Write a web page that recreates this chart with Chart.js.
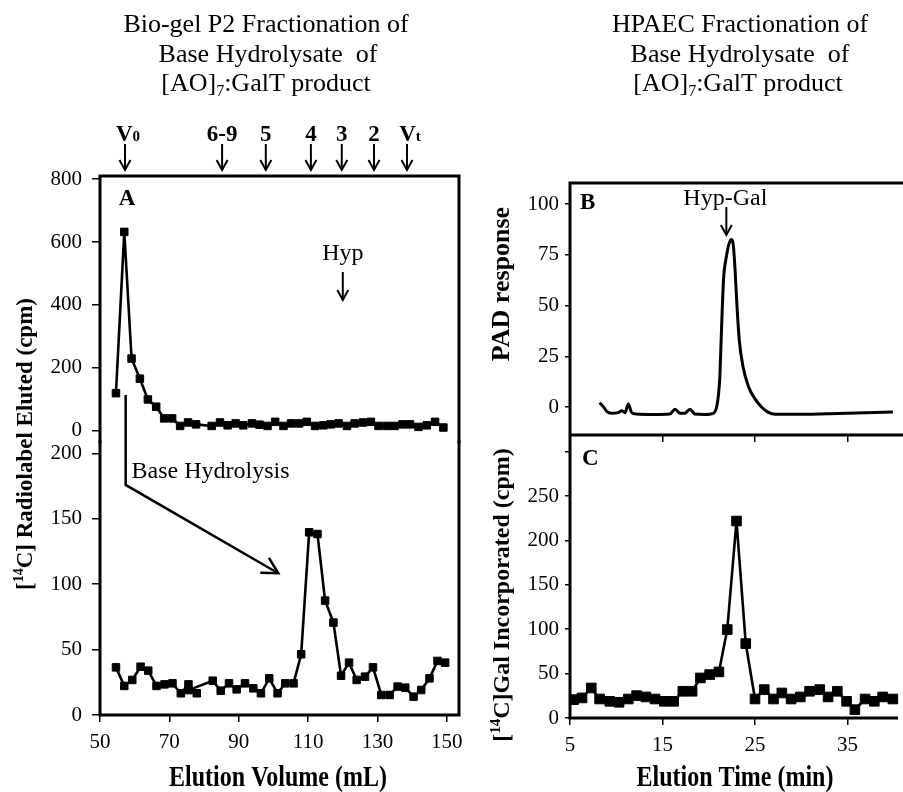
<!DOCTYPE html>
<html lang="en">
<head>
<meta charset="UTF-8">
<title>Bio-gel P2 and HPAEC Fractionation</title>
<style>
  body { margin: 0; background: #fff; }
  #wrap { position: relative; width: 903px; height: 792px; overflow: hidden; }
  #wrap canvas { position: absolute; left: 0; top: 0; }
</style>
</head>
<body>
<div id="wrap">
  <canvas id="chartA1" width="903" height="792"></canvas>
  <canvas id="chartA2" width="903" height="792"></canvas>
  <canvas id="chartB" width="903" height="792"></canvas>
  <canvas id="chartC" width="903" height="792"></canvas>
</div>
<script src="https://cdn.jsdelivr.net/npm/chart.js"></script>
<script>
// Panel A, upper trace: [AO]7:GalT product on Bio-gel P2
const volIntact = [54.6, 57.0, 59.1, 61.5, 63.8, 66.2, 68.5, 70.8, 73.1, 75.4, 77.7, 82.2, 84.6, 86.8, 89.1, 91.3, 93.8, 96.0, 98.3, 100.5, 102.9, 105.1, 107.4, 109.6, 112.0, 114.4, 116.5, 118.8, 121.2, 123.4, 125.8, 128.1, 130.3, 132.7, 134.9, 137.2, 139.4, 141.8, 144.2, 146.6, 149.0];
const cpmIntact = [120, 632, 230, 166, 100, 77, 40, 40, 16, 27, 21, 16, 27, 18, 24, 18, 24, 20, 16, 29, 16, 24, 24, 29, 16, 18, 21, 24, 16, 24, 27, 29, 16, 16, 16, 21, 21, 13, 18, 29, 11];

// Panel A, lower trace: after base hydrolysis
const volBase = [54.6, 57.0, 59.3, 61.7, 63.9, 66.3, 68.6, 70.9, 73.3, 75.5, 77.9, 75.5, 82.5, 84.8, 87.2, 89.4, 91.8, 94.2, 96.4, 98.8, 101.2, 103.4, 105.8, 108.0, 110.3, 112.7, 114.9, 117.3, 119.5, 121.8, 124.0, 126.4, 128.7, 131.1, 133.5, 135.8, 138.0, 140.4, 142.6, 145.0, 147.3, 149.5];
const cpmBase = [36.4, 22.2, 26.8, 36.9, 33.9, 22.2, 23.4, 24.2, 16.6, 23.4, 16.6, 19, 26.2, 18.6, 24.2, 19.6, 24.2, 20.4, 16.6, 28, 16.6, 24.2, 24.2, 46.4, 139.6, 138.3, 87.4, 70.6, 30, 40, 26.8, 29.3, 36.4, 15.3, 15.3, 21.7, 20.9, 14, 19.1, 28, 41.3, 40];

// Panel B: PAD trace
const padTime = [8.2, 8.6, 9.0, 9.5, 10.2, 10.6, 10.95, 11.3, 11.67, 12.2, 14.0, 15.8, 16.35, 16.9, 17.4, 17.97, 18.5, 19.5, 20.5, 20.86, 21.05, 21.2, 21.4, 21.6, 21.9, 22.2, 22.45, 22.65, 22.84, 23.05, 23.3, 23.7, 24.3, 25.0, 25.7, 26.4, 27.2, 30.0, 34.0, 39.9];
const padResp = [2.1, 0.2, -2.3, -3.1, -2.8, -1.8, -2.8, 1.5, -2.8, -3.5, -3.7, -3.5, -1.1, -3.1, -3.1, -1.1, -3.5, -3.7, -3.1, 0.2, 6, 15, 41, 63, 74, 80.5, 82.5, 80, 68, 50, 33, 20, 10, 4, 0, -2.5, -3.6, -3.6, -3.2, -2.5];

// Panel C: [14C]Gal counts per fraction
const galTime = [5.4, 6.3, 7.3, 8.2, 9.3, 10.3, 11.3, 12.2, 13.2, 14.2, 15.2, 16.2, 17.2, 18.2, 19.1, 20.1, 21.1, 22.0, 23.0, 24.0, 25.0, 26.0, 27.0, 27.9, 28.9, 29.9, 30.9, 32.0, 32.9, 33.9, 34.9, 35.8, 36.9, 37.9, 38.8, 39.9];
const galCpm = [20.7, 22.6, 33.8, 21.4, 18.8, 17.7, 21.4, 25.2, 23.7, 21.4, 18.8, 18.8, 30.1, 30.1, 45.1, 48.9, 51.9, 99.6, 221.8, 83.8, 21.4, 32, 21.4, 28.2, 21.4, 23.7, 30.1, 32, 23.7, 30.1, 18.8, 9.4, 21.4, 18.8, 23.7, 21.4];

// tick labels
const volTicks = [50, 70, 90, 110, 130, 150];
const timeTicks = [5, 15, 25, 35];
const intactTicks = [0, 200, 400, 600, 800];
const baseTicks = [0, 50, 100, 150, 200];
const padTicks = [0, 25, 50, 75, 100];
const galTicks = [0, 50, 100, 150, 200, 250, 300];

// calibration markers above panel A
const markerNames = ['V0', '6-9', '5', '4', '3', '2', 'Vt'];
const markerVols = [57.2, 85.2, 97.8, 110.8, 119.7, 129.0, 138.5];

const SERIF = "'Liberation Serif', 'Times New Roman', serif";
const W = 903, H = 792, YW = 70, XH = 60;
Chart.defaults.font.family = SERIF;
Chart.defaults.color = '#000';

function pts(xs, ys) {
  return xs.map((x, i) => ({ x: x, y: ys[i] }));
}

// draw a row of text pieces: [text, size, bold, dy]
function runs(ctx, parts, x, y, align) {
  let w = 0;
  parts.forEach(p => {
    ctx.font = (p[2] ? 'bold ' : '') + p[1] + 'px ' + SERIF;
    w += ctx.measureText(p[0]).width;
  });
  let cx = align === 'center' ? x - w / 2 : x;
  ctx.textAlign = 'left';
  ctx.textBaseline = 'alphabetic';
  parts.forEach(p => {
    ctx.font = (p[2] ? 'bold ' : '') + p[1] + 'px ' + SERIF;
    ctx.fillText(p[0], cx, y + (p[3] || 0));
    cx += ctx.measureText(p[0]).width;
  });
}

function poly(ctx, list) {
  ctx.beginPath();
  ctx.moveTo(list[0][0], list[0][1]);
  for (let i = 1; i < list.length; i++) ctx.lineTo(list[i][0], list[i][1]);
  ctx.stroke();
}

function arrowDown(ctx, x, y1, y2) {
  ctx.lineWidth = 2;
  poly(ctx, [[x, y1], [x, y2]]);
  poly(ctx, [[x - 5.5, y2 - 10], [x, y2], [x + 5.5, y2 - 10]]);
}

function xAxis(min, max, ticks, labels, height) {
  return {
    type: 'linear', min: min, max: max,
    afterBuildTicks: s => { s.ticks = ticks.map(v => ({ value: v })); },
    afterFit: s => { s.height = height; },
    border: { display: false },
    grid: { display: height > 0, drawOnChartArea: false, drawTicks: true, tickLength: 7, color: '#000', lineWidth: 1.5 },
    ticks: { display: labels, autoSkip: false, maxRotation: 0, padding: 8, color: '#000', font: { size: 21 } }
  };
}

function yAxis(min, max, ticks, tl, pad, hide) {
  return {
    type: 'linear', min: min, max: max,
    afterBuildTicks: s => { s.ticks = ticks.map(v => ({ value: v })); },
    afterFit: s => { s.width = YW; },
    border: { display: false },
    grid: { drawOnChartArea: false, drawTicks: true, tickLength: tl, color: '#000', lineWidth: 1.5 },
    ticks: {
      autoSkip: false, padding: pad, color: '#000', font: { size: 21 },
      callback: v => (hide !== undefined && v === hide) ? '' : v
    }
  };
}

function makeChart(id, area, xs, ys, datasets, xh, draw) {
  return new Chart(document.getElementById(id), {
    type: 'scatter',
    data: { datasets: datasets },
    options: {
      responsive: false,
      animation: false,
      events: [],
      layout: {
        autoPadding: false,
        padding: { left: area.l - YW, top: area.t, right: W - area.r, bottom: H - area.b - xh }
      },
      plugins: { legend: { display: false }, tooltip: { enabled: false } },
      scales: { x: xs, y: ys }
    },
    plugins: [{ id: 'deco_' + id, afterDraw: c => draw(c) }]
  });
}

function squareSeries(data, r) {
  return {
    data: data, showLine: true,
    borderColor: '#000', backgroundColor: '#000', borderWidth: 2.6,
    pointStyle: 'rect', pointRadius: r, pointBorderWidth: 1
  };
}

// ---------- Panel A, upper ----------
makeChart('chartA1', { l: 100, t: 176, r: 459, b: 442 }, xAxis(50, 153.5, volTicks, false, 0),
  yAxis(-35, 809.5, intactTicks, 8, 10),
  [squareSeries(pts(volIntact, cpmIntact), 5.3)], 0,
  c => {
    const ctx = c.ctx, a = c.chartArea, xs = c.scales.x, ys = c.scales.y;
    ctx.save();
    ctx.strokeStyle = '#000';
    ctx.fillStyle = '#000';
    ctx.lineWidth = 3;
    ctx.lineCap = 'square';
    poly(ctx, [[a.left, a.bottom], [a.left, a.top], [a.right, a.top], [a.right, a.bottom]]);
    ctx.lineCap = 'butt';

    // titles
    runs(ctx, [['Bio-gel P2 Fractionation of', 26]], 266, 32, 'center');
    runs(ctx, [['Base Hydrolysate  of', 26]], 268, 62, 'center');
    runs(ctx, [['[AO]', 26], ['7', 16, false, 5], [':GalT product', 26]], 266, 91, 'center');
    runs(ctx, [['HPAEC Fractionation of', 26]], 740, 32, 'center');
    runs(ctx, [['Base Hydrolysate  of', 26]], 740, 62, 'center');
    runs(ctx, [['[AO]', 26], ['7', 16, false, 5], [':GalT product', 26]], 738, 91, 'center');

    // calibration markers
    markerNames.forEach((n, i) => {
      const x = xs.getPixelForValue(markerVols[i]);
      if (n[0] === 'V') runs(ctx, [['V', 23, true], [n.slice(1), 15, true, 0]], x + 3, 141, 'center');
      else runs(ctx, [[n, 23, true]], x, 141, 'center');
      arrowDown(ctx, x, 144, 170);
    });

    // Hyp marker
    const hx = xs.getPixelForValue(120);
    runs(ctx, [['Hyp', 24]], hx, 260, 'center');
    arrowDown(ctx, hx, 272, 300);

    runs(ctx, [['A', 23, true]], xs.getPixelForValue(57.8), ys.getPixelForValue(716), 'center');

    // axis titles
    ctx.save();
    ctx.translate(32, 444);
    ctx.rotate(-Math.PI / 2);
    runs(ctx, [['[', 23, true], ['14', 14, true, -9], ['C] Radiolabel Eluted (cpm)', 23, true]], 0, 0, 'center');
    ctx.restore();
    ctx.save();
    ctx.translate(509, 284);
    ctx.rotate(-Math.PI / 2);
    runs(ctx, [['PAD response', 26, true]], 0, 0, 'center');
    ctx.restore();
    ctx.save();
    ctx.translate(509, 595);
    ctx.rotate(-Math.PI / 2);
    runs(ctx, [['[', 24, true], ['14', 15, true, -9], ['C]Gal Incorporated (cpm)', 24, true]], 0, 0, 'center');
    ctx.restore();
    ctx.save();
    ctx.translate(278, 786);
    ctx.scale(1, 1.2);
    runs(ctx, [['Elution Volume (mL)', 24, true]], 0, 0, 'center');
    ctx.restore();
    ctx.save();
    ctx.translate(735, 786);
    ctx.scale(1, 1.2);
    runs(ctx, [['Elution Time (min)', 24, true]], 0, 0, 'center');
    ctx.restore();
    ctx.restore();
  });

// ---------- Panel A, lower ----------
makeChart('chartA2', { l: 100, t: 442, r: 459, b: 715 }, xAxis(50, 153.5, volTicks, true, XH),
  yAxis(0, 208.6, baseTicks, 8, 10),
  [squareSeries(pts(volBase, cpmBase), 5.3)], XH,
  c => {
    const ctx = c.ctx, a = c.chartArea, xs = c.scales.x, ys = c.scales.y;
    ctx.save();
    ctx.strokeStyle = '#000';
    ctx.fillStyle = '#000';
    ctx.lineWidth = 3;
    ctx.lineCap = 'square';
    poly(ctx, [[a.left, a.top], [a.left, a.bottom], [a.right, a.bottom], [a.right, a.top]]);
    ctx.lineCap = 'butt';

    // base hydrolysis connector
    const p0 = [xs.getPixelForValue(57.4), ys.getPixelForValue(244.6)];
    const p1 = [xs.getPixelForValue(57.4), ys.getPixelForValue(175.8)];
    const p2 = [xs.getPixelForValue(101.4), ys.getPixelForValue(108.3)];
    ctx.lineWidth = 2.5;
    poly(ctx, [p0, p1, p2]);
    const ang = Math.atan2(p2[1] - p1[1], p2[0] - p1[0]) + Math.PI;
    const hl = 18;
    poly(ctx, [
      [p2[0] + hl * Math.cos(ang - 0.5), p2[1] + hl * Math.sin(ang - 0.5)],
      p2,
      [p2[0] + hl * Math.cos(ang + 0.5), p2[1] + hl * Math.sin(ang + 0.5)]
    ]);
    runs(ctx, [['Base Hydrolysis', 24]], xs.getPixelForValue(59.1), ys.getPixelForValue(181.1), 'left');
    ctx.restore();
  });

// ---------- Panel B ----------
makeChart('chartB', { l: 570, t: 183, r: 903, b: 435 }, xAxis(5, 41, timeTicks, false, 10),
  yAxis(-13.8, 110.4, padTicks, 5, 6),
  [{
    data: pts(padTime, padResp), showLine: true, borderColor: '#000', borderWidth: 3,
    pointRadius: 0, cubicInterpolationMode: 'monotone'
  }], 10,
  c => {
    const ctx = c.ctx, a = c.chartArea, xs = c.scales.x, ys = c.scales.y;
    ctx.save();
    ctx.strokeStyle = '#000';
    ctx.fillStyle = '#000';
    ctx.lineWidth = 3;
    poly(ctx, [[a.left, a.bottom], [a.left, a.top], [a.right, a.top]]);
    poly(ctx, [[a.left, a.bottom], [a.right, a.bottom]]);
    runs(ctx, [['B', 23, true]], xs.getPixelForValue(6.9), ys.getPixelForValue(97.5), 'center');
    const gx = xs.getPixelForValue(21.9);
    runs(ctx, [['Hyp-Gal', 24]], gx - 1, 205, 'center');
    arrowDown(ctx, gx, 207, 235);
    ctx.restore();
  });

// ---------- Panel C ----------
makeChart('chartC', { l: 570, t: 435, r: 903, b: 718 }, xAxis(5, 41, timeTicks, true, XH),
  yAxis(0, 318.7, galTicks, 5, 6, 300),
  [squareSeries(pts(galTime, galCpm), 6.8)], XH,
  c => {
    const ctx = c.ctx, a = c.chartArea, xs = c.scales.x, ys = c.scales.y;
    ctx.save();
    ctx.strokeStyle = '#000';
    ctx.fillStyle = '#000';
    ctx.lineWidth = 3;
    poly(ctx, [[a.left, a.top], [a.left, a.bottom], [a.right - 5, a.bottom]]);
    runs(ctx, [['C', 23, true]], xs.getPixelForValue(7.2), ys.getPixelForValue(285), 'center');
    ctx.restore();
  });
</script>
</body>
</html>
